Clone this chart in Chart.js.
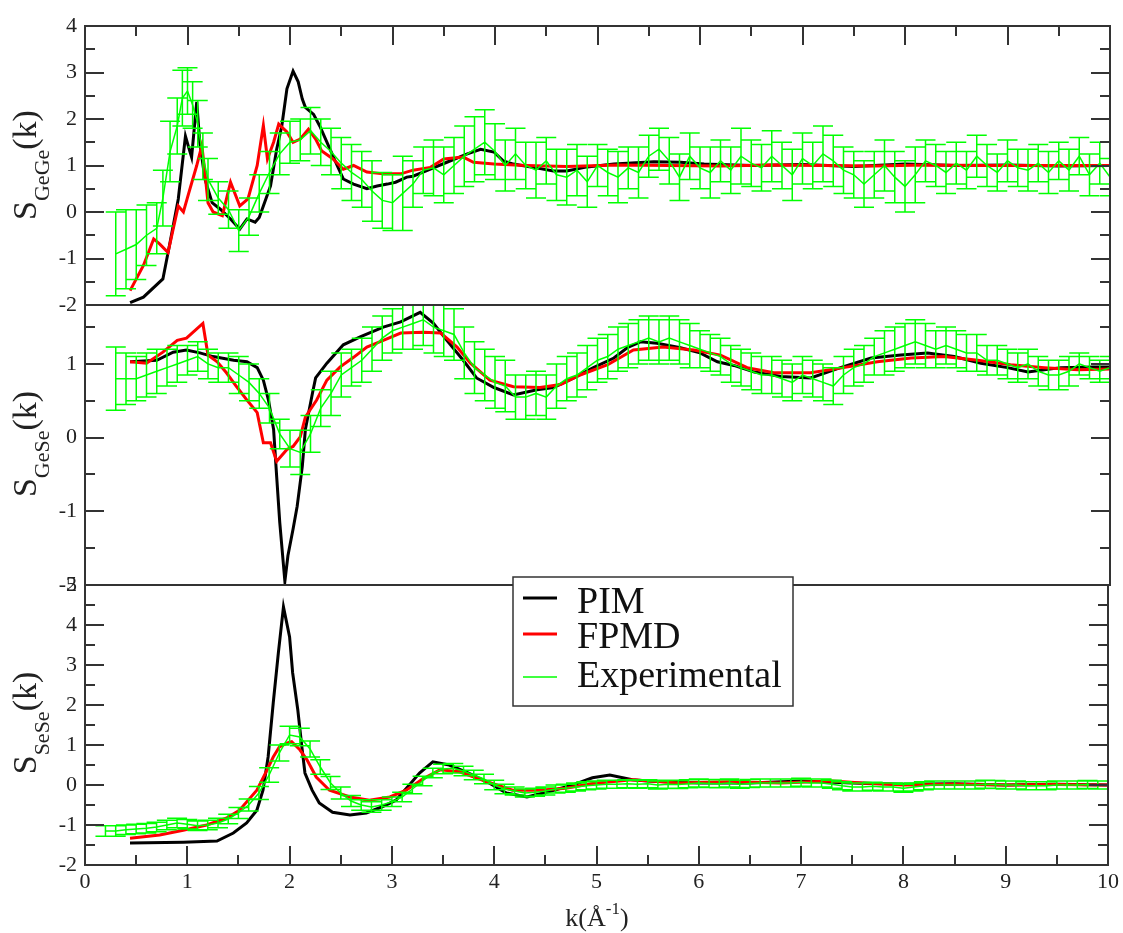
<!DOCTYPE html>
<html>
<head>
<meta charset="utf-8">
<script src="https://cdn.jsdelivr.net/npm/chart.js@4.4.1/dist/chart.umd.min.js"></script>
<style>
  body { margin: 0; background: #fff; }
  #wrap { position: relative; width: 1123px; height: 933px; }
  #wrap canvas { position: absolute; left: 0; top: 0; }
</style>
</head>
<body>
<div id="wrap">
  <canvas id="p1" width="1123" height="933"></canvas>
  <canvas id="p2" width="1123" height="933"></canvas>
  <canvas id="p3" width="1123" height="933"></canvas>
</div>
<script>
// ---- data ----
const xTicks = [0, 1, 2, 3, 4, 5, 6, 7, 8, 9, 10];
const seriesNames = ["PIM", "FPMD", "Experimental"];

// S_GeGe(k)
const pimK1 = [0.44,0.57,0.76,0.83,0.91,0.98,1.01,1.04,1.09,1.12,1.17,1.24,1.32,1.42,1.51,1.58,1.66,1.7,1.74,1.81,1.87,1.92,1.97,2.03,2.08,2.12,2.15,2.23,2.29,2.39,2.46,2.52,2.62,2.75,2.85,2.95,3.03,3.14,3.2,3.37,3.53,3.73,3.86,3.99,4.08,4.18,4.35,4.57,4.7,4.9,5.16,5.55,5.81,6.04,6.5,7.0,7.5,8.0,8.5,9.0,9.5,10.0];
const pimS1 = [-1.95,-1.83,-1.44,-0.65,0.28,1.63,1.4,1.18,2.37,1.5,0.71,0.2,0.06,-0.15,-0.37,-0.15,-0.22,-0.12,0.13,0.56,1.35,1.85,2.65,3.03,2.8,2.43,2.25,2.1,1.85,1.35,1.0,0.71,0.6,0.5,0.56,0.6,0.64,0.75,0.77,0.92,1.07,1.25,1.35,1.29,1.1,1.03,0.97,0.88,0.88,0.97,1.03,1.08,1.07,1.03,1.0,1.02,0.98,1.03,1.0,1.01,0.99,1.0];
const fpK1 = [0.44,0.57,0.67,0.73,0.81,0.86,0.91,0.96,1.01,1.09,1.14,1.17,1.2,1.25,1.34,1.42,1.51,1.59,1.68,1.74,1.78,1.84,1.89,1.97,2.03,2.1,2.18,2.25,2.31,2.42,2.52,2.62,2.75,2.91,3.08,3.2,3.37,3.5,3.69,3.79,3.99,4.3,4.7,5.2,5.7,6.2,6.7,7.2,7.7,8.2,8.7,9.2,9.7,10.0];
const fpS1 = [-1.69,-1.15,-0.58,-0.69,-0.87,-0.37,0.13,0.0,0.39,1.0,1.43,0.85,0.2,0.0,-0.08,0.64,0.13,0.28,1.0,1.86,1.14,1.5,1.89,1.72,1.5,1.57,1.78,1.57,1.31,1.14,0.92,1.0,0.86,0.82,0.82,0.9,0.96,1.14,1.18,1.07,1.03,1.0,0.98,1.01,1.0,0.99,1.01,1.0,0.99,1.01,1.0,1.0,1.0,1.0];
const expK1 = [0.3,0.4,0.5,0.6,0.7,0.76,0.83,0.9,0.95,1.0,1.05,1.1,1.15,1.2,
  1.3,1.4,1.5,1.6,1.7,1.8,1.9,2.0,2.1,2.2, 2.3,2.4,2.5,2.6,2.7,2.8,2.9,3.0,3.1,3.2,
  3.3,3.4,3.5,3.6,3.7,3.8,3.9,4.0,4.1,4.2, 4.3,4.4,4.5,4.6,4.7,4.8,4.9,5.0,5.1,5.2,
  5.3,5.4,5.5,5.6,5.7,5.8,5.9,6.0,6.1,6.2, 6.3,6.4,6.5,6.6,6.7,6.8,6.9,7.0,7.1,7.2,
  7.3,7.4,7.5,7.6,7.7,7.8,7.9,8.0,8.1,8.2, 8.3,8.4,8.5,8.6,8.7,8.8,8.9,9.0,9.1,9.2,
  9.3,9.4,9.5,9.6,9.7,9.8,9.9,10.0];
const expS1 = [-0.9,-0.8,-0.7,-0.5,-0.35,0.3,1.3,1.85,2.45,2.6,2.3,1.9,1.2,0.7,
  0.3,0.05,-0.4,-0.1,0.4,0.85,1.25,1.5,1.55,1.75, 1.5,1.3,1.05,0.85,0.7,0.45,0.25,0.2,0.4,0.6,
  0.9,0.95,0.8,1.0,1.2,1.35,1.5,1.3,1.0,1.25, 1.0,0.9,1.1,0.8,0.75,0.9,0.65,1.0,0.85,0.75,
  0.95,0.85,1.2,1.35,1.1,0.75,1.2,0.95,0.85,1.1, 0.9,1.2,1.05,0.95,1.2,1.0,0.8,1.15,1.0,1.25,
  1.1,0.9,0.8,0.6,0.8,1.0,0.75,0.55,0.8,1.1, 1.0,0.85,1.05,0.9,1.2,1.0,0.85,1.1,0.95,0.9,
  1.05,0.85,1.1,0.9,1.2,0.8,1.05,0.75];
const expE1 = [0.9,0.85,0.75,0.65,0.55,0.6,0.65,0.6,0.6,0.5,0.5,0.5,0.5,0.45,
  0.35,0.4,0.45,0.4,0.4,0.45,0.45,0.45,0.45,0.5, 0.5,0.5,0.55,0.6,0.6,0.65,0.6,0.6,0.8,0.5,
  0.5,0.6,0.6,0.6,0.65,0.7,0.7,0.6,0.55,0.55, 0.5,0.6,0.5,0.55,0.6,0.55,0.55,0.45,0.5,0.55,
  0.45,0.55,0.45,0.45,0.5,0.5,0.5,0.45,0.55,0.45, 0.5,0.6,0.5,0.5,0.55,0.5,0.55,0.55,0.5,0.6,
  0.55,0.5,0.5,0.5,0.5,0.55,0.55,0.55,0.6,0.45, 0.45,0.45,0.45,0.4,0.45,0.45,0.4,0.45,0.4,0.45,
  0.4,0.45,0.4,0.45,0.4,0.45,0.45,0.4];

// S_GeSe(k)
const pimK2 = [0.44,0.7,0.86,0.99,1.12,1.25,1.45,1.58,1.68,1.74,1.79,1.84,1.87,1.9,1.95,1.98,2.03,2.07,2.12,2.15,2.22,2.25,2.36,2.52,2.69,2.91,3.08,3.27,3.4,3.53,3.69,3.82,3.99,4.18,4.41,4.57,4.77,4.96,5.16,5.29,5.42,5.58,5.81,6.0,6.17,6.33,6.53,6.79,7.08,7.37,7.67,7.96,8.22,8.48,8.74,9.0,9.2,9.52,9.84,10.0];
const pimS2 = [1.03,1.05,1.16,1.19,1.15,1.1,1.05,1.03,0.95,0.78,0.51,0.11,-0.53,-1.15,-1.95,-1.6,-1.24,-0.93,-0.39,0.11,0.61,0.81,1.01,1.26,1.37,1.5,1.57,1.7,1.55,1.32,1.05,0.81,0.68,0.58,0.65,0.68,0.81,0.95,1.08,1.22,1.3,1.28,1.22,1.15,1.03,0.98,0.89,0.83,0.81,0.95,1.08,1.12,1.15,1.1,1.01,0.95,0.89,0.95,0.96,0.96];
const fpK2 = [0.44,0.6,0.76,0.9,0.99,1.15,1.2,1.29,1.38,1.48,1.58,1.68,1.74,1.81,1.87,1.97,2.03,2.1,2.15,2.26,2.36,2.49,2.62,2.75,2.91,3.08,3.3,3.47,3.63,3.76,3.95,4.18,4.44,4.64,4.83,5.1,5.35,5.64,5.94,6.2,6.46,6.72,7.08,7.4,7.73,8.06,8.38,8.71,9.03,9.36,9.69,10.0];
const fpS2 = [1.03,1.01,1.16,1.32,1.35,1.55,1.12,1.03,0.88,0.69,0.51,0.34,-0.07,-0.07,-0.32,-0.16,-0.12,0.01,0.28,0.51,0.78,0.96,1.09,1.23,1.32,1.42,1.43,1.42,1.23,1.01,0.78,0.69,0.68,0.72,0.85,0.99,1.19,1.23,1.19,1.12,0.95,0.88,0.88,0.95,1.03,1.08,1.1,1.05,0.99,0.95,0.92,0.93];
const expK2 = [0.3,0.4,0.5,0.6,0.7,0.8,0.9,1.0,1.1,1.2, 1.3,1.4,1.5,1.6,1.7,1.8,1.9,2.0,2.1,2.2,
  2.3,2.4,2.5,2.6,2.7,2.8,2.9,3.0,3.1,3.2, 3.3,3.4,3.5,3.6,3.7,3.8,3.9,4.0,4.1,4.2,
  4.3,4.4,4.5,4.6,4.7,4.8,4.9,5.0,5.1,5.2, 5.3,5.4,5.5,5.6,5.7,5.8,5.9,6.0,6.1,6.2,
  6.3,6.4,6.5,6.6,6.7,6.8,6.9,7.0,7.1,7.2, 7.3,7.4,7.5,7.6,7.7,7.8,7.9,8.0,8.1,8.2,
  8.3,8.4,8.5,8.6,8.7,8.8,8.9,9.0,9.1,9.2, 9.3,9.4,9.5,9.6,9.7,9.8,9.9,10.0];
const expS2 = [0.8,0.8,0.8,0.85,0.9,0.95,1.0,1.05,1.1,1.0, 0.95,0.95,0.85,0.75,0.6,0.4,0.05,-0.15,-0.2,0.05,
  0.4,0.6,0.85,0.95,1.05,1.2,1.35,1.45,1.5,1.55, 1.6,1.5,1.45,1.4,1.15,0.95,0.85,0.75,0.7,0.55,
  0.55,0.6,0.55,0.7,0.8,0.85,0.95,1.05,1.1,1.2, 1.25,1.3,1.35,1.3,1.35,1.3,1.25,1.2,1.15,1.1,
  1.0,0.95,0.9,0.85,0.85,0.8,0.75,0.85,0.8,0.75, 0.7,0.85,0.95,1.0,1.1,1.15,1.2,1.25,1.3,1.25,
  1.2,1.25,1.2,1.15,1.15,1.05,1.05,1.0,0.95,1.0, 0.9,0.85,0.85,0.9,1.0,0.95,0.9,0.95];
const expE2 = [0.43,0.35,0.3,0.3,0.3,0.25,0.25,0.2,0.2,0.2, 0.2,0.2,0.25,0.25,0.2,0.2,0.2,0.25,0.3,0.25,
  0.25,0.3,0.3,0.25,0.3,0.3,0.3,0.3,0.3,0.35, 0.35,0.35,0.35,0.35,0.35,0.35,0.35,0.35,0.35,0.3,
  0.3,0.3,0.3,0.3,0.3,0.3,0.3,0.3,0.3,0.3, 0.3,0.3,0.3,0.3,0.3,0.3,0.3,0.25,0.25,0.25,
  0.25,0.25,0.25,0.25,0.25,0.25,0.25,0.25,0.25,0.25, 0.25,0.25,0.25,0.25,0.25,0.3,0.3,0.3,0.3,0.3,
  0.25,0.25,0.25,0.25,0.25,0.2,0.2,0.2,0.2,0.2, 0.2,0.2,0.2,0.2,0.15,0.15,0.15,0.15];

// S_SeSe(k)
const pimK3 = [0.44,0.96,1.29,1.45,1.58,1.68,1.74,1.79,1.84,1.89,1.94,2.0,2.03,2.08,2.12,2.15,2.22,2.29,2.42,2.59,2.75,2.9,3.04,3.17,3.27,3.4,3.56,3.75,3.95,4.12,4.32,4.51,4.77,4.96,5.13,5.35,5.5,6.0,6.5,7.0,7.5,8.0,8.5,9.0,9.5,10.0];
const pimS3 = [-1.45,-1.43,-1.4,-1.2,-0.95,-0.63,-0.13,0.7,2.05,3.3,4.45,3.7,2.8,1.88,0.95,0.3,-0.13,-0.45,-0.68,-0.75,-0.7,-0.55,-0.38,0.0,0.3,0.58,0.5,0.3,0.05,-0.2,-0.3,-0.18,0.0,0.18,0.25,0.13,0.1,0.05,0.05,0.1,0.05,0.02,0.03,0.0,0.02,0.0];
const fpK3 = [0.44,0.73,0.96,1.19,1.38,1.51,1.68,1.78,1.84,1.9,1.98,2.02,2.1,2.17,2.26,2.39,2.59,2.78,2.98,3.14,3.3,3.47,3.66,3.93,4.18,4.44,4.7,4.96,5.35,5.8,6.3,6.8,7.3,7.6,8.0,8.5,9.0,9.5,10.0];
const fpS3 = [-1.33,-1.25,-1.13,-1.0,-0.83,-0.63,-0.13,0.38,0.7,0.95,1.05,1.08,0.88,0.63,0.2,-0.13,-0.3,-0.38,-0.3,-0.13,0.15,0.38,0.33,0.08,-0.13,-0.13,-0.08,0.04,0.13,0.05,0.08,0.05,0.1,0.05,0.0,0.02,0.0,0.01,0.0];
const expK3 = [0.2,0.3,0.4,0.5,0.6,0.7,0.8,0.9,1.0,1.1, 1.2,1.3,1.4,1.5,1.6,1.7,1.8,1.9,2.0,2.1,
  2.2,2.3,2.4,2.5,2.6,2.7,2.8,2.9,3.0,3.1, 3.2,3.3,3.4,3.5,3.6,3.7,3.8,3.9,4.0,4.1,
  4.2,4.3,4.4,4.5,4.6,4.7,4.8,4.9,5.0,5.1, 5.2,5.3,5.4,5.5,5.6,5.7,5.8,5.9,6.0,6.1,
  6.2,6.3,6.4,6.5,6.6,6.7,6.8,6.9,7.0,7.1, 7.2,7.3,7.4,7.5,7.6,7.7,7.8,7.9,8.0,8.1,
  8.2,8.3,8.4,8.5,8.6,8.7,8.8,8.9,9.0,9.1, 9.2,9.3,9.4,9.5,9.6,9.7,9.8,9.9,10.0];
const expS3 = [-1.15,-1.15,-1.12,-1.1,-1.08,-1.05,-1.0,-0.95,-0.98,-1.02, -1.0,-0.95,-0.85,-0.7,-0.5,-0.2,0.25,0.8,1.25,1.2,
  0.9,0.45,0.05,-0.2,-0.4,-0.5,-0.55,-0.5,-0.42,-0.3, -0.1,0.1,0.3,0.4,0.42,0.35,0.25,0.15,0.0,-0.1,
  -0.15,-0.2,-0.18,-0.15,-0.1,-0.08,-0.05,-0.02,0.0,0.02, 0.02,0.03,0.02,0.03,0.0,0.02,0.01,0.03,0.05,0.04,
  0.03,0.05,0.02,0.04,0.05,0.05,0.05,0.05,0.07,0.05, 0.05,0.02,-0.02,-0.05,-0.05,-0.03,-0.05,-0.05,-0.08,-0.05,
  -0.02,0.0,0.0,0.0,0.0,0.0,0.02,0.01,0.0,0.0, -0.02,-0.02,-0.02,0.0,0.0,0.0,0.01,0.0,0.0];
const expE3 = [0.13,0.13,0.12,0.12,0.12,0.12,0.12,0.12,0.12,0.12, 0.12,0.12,0.12,0.14,0.15,0.16,0.18,0.2,0.22,0.22,
  0.2,0.18,0.16,0.15,0.14,0.13,0.13,0.13,0.12,0.12, 0.12,0.12,0.12,0.12,0.12,0.12,0.12,0.12,0.12,0.12,
  0.1,0.1,0.1,0.1,0.1,0.1,0.1,0.1,0.1,0.1, 0.1,0.1,0.1,0.1,0.1,0.1,0.1,0.1,0.1,0.1,
  0.1,0.1,0.1,0.1,0.1,0.1,0.1,0.1,0.1,0.1, 0.1,0.1,0.1,0.1,0.1,0.1,0.1,0.1,0.1,0.1,
  0.1,0.1,0.1,0.1,0.1,0.1,0.1,0.1,0.1,0.1, 0.1,0.1,0.1,0.1,0.1,0.1,0.1,0.1,0.1];

const FONT = "'Liberation Serif', 'DejaVu Serif', serif";
const INK = "#333";

function pts(ks, vs) {
    return ks.map((k, i) => ({ x: k, y: vs[i] }));
}

// vertical error bars with caps for the experimental set
const errorBars = {
    id: "errorBars",
    afterDatasetsDraw(chart) {
        const ds = chart.data.datasets.find(d => d.errors);
        if (!ds) return;
        const { ctx, chartArea: a, scales: { x, y } } = chart;
        ctx.save();
        ctx.beginPath();
        ctx.rect(a.left, a.top, a.right - a.left, a.bottom - a.top);
        ctx.clip();
        ctx.strokeStyle = ds.borderColor;
        ctx.lineWidth = 1.5;
        ctx.beginPath();
        ds.data.forEach((p, i) => {
            const px = x.getPixelForValue(p.x);
            const t = y.getPixelForValue(p.y + ds.errors[i]);
            const b = y.getPixelForValue(p.y - ds.errors[i]);
            ctx.moveTo(px, t); ctx.lineTo(px, b);
            ctx.moveTo(px - 10, t); ctx.lineTo(px + 10, t);
            ctx.moveTo(px - 10, b); ctx.lineTo(px + 10, b);
        });
        ctx.stroke();
        ctx.restore();
    }
};

// box around the panel with inward ticks (xmgrace look)
const frameTicks = {
    id: "frameTicks",
    afterDraw(chart, args, opts) {
        const { ctx, chartArea: a, scales: { x, y } } = chart;
        ctx.save();
        ctx.strokeStyle = INK;
        ctx.lineWidth = 2;
        ctx.beginPath();
        for (let v = Math.ceil(y.min * 2) / 2; v <= y.max + 1e-9; v += 0.5) {
            const py = Math.round(y.getPixelForValue(v));
            const len = Number.isInteger(v) ? 19 : 10;
            ctx.moveTo(a.left, py); ctx.lineTo(a.left + len, py);
            ctx.moveTo(a.right, py); ctx.lineTo(a.right - len, py);
        }
        if (opts.top || opts.bottom) {
            for (let v = 0; v <= 10; v += 0.5) {
                const px = Math.round(x.getPixelForValue(v));
                const len = Number.isInteger(v) ? 19 : 10;
                if (opts.top) { ctx.moveTo(px, a.top); ctx.lineTo(px, a.top + len); }
                if (opts.bottom) { ctx.moveTo(px, a.bottom); ctx.lineTo(px, a.bottom - len); }
            }
        }
        ctx.stroke();
        ctx.strokeRect(a.left, a.top, a.right - a.left, a.bottom - a.top);
        ctx.restore();
    }
};

// rotated y title S_xx(k), and k(Å^-1) under the last panel
const titles = {
    id: "titles",
    afterDraw(chart, args, opts) {
        const ctx = chart.ctx;
        ctx.save();
        ctx.fillStyle = "#222";
        ctx.textBaseline = "alphabetic";
        ctx.textAlign = "left";
        const big = "34px " + FONT, small = "22px " + FONT;
        ctx.font = big; const w1 = ctx.measureText("S").width, w3 = ctx.measureText("(k)").width;
        ctx.font = small; const w2 = ctx.measureText(opts.sub).width;
        ctx.translate(36, opts.cy);
        ctx.rotate(-Math.PI / 2);
        let cx = -(w1 + w2 + w3) / 2;
        ctx.font = big; ctx.fillText("S", cx, 0); cx += w1;
        ctx.font = small; ctx.fillText(opts.sub, cx, 13); cx += w2;
        ctx.font = big; ctx.fillText("(k)", cx, 0);
        ctx.restore();

        if (opts.xTitle) {
            ctx.save();
            ctx.fillStyle = "#222";
            const f = "26px " + FONT, fs = "17px " + FONT;
            ctx.font = f; const a1 = ctx.measureText("k(Å").width, a3 = ctx.measureText(")").width;
            ctx.font = fs; const a2 = ctx.measureText("-1").width;
            let px = 597 - (a1 + a2 + a3) / 2;
            const base = 926;
            ctx.font = f; ctx.fillText("k(Å", px, base); px += a1;
            ctx.font = fs; ctx.fillText("-1", px, base - 12); px += a2;
            ctx.font = f; ctx.fillText(")", px, base);
            ctx.restore();
        }
    }
};

// legend box drawn from the datasets of the last panel
const boxLegend = {
    id: "boxLegend",
    afterDraw(chart, args, opts) {
        if (!opts.show) return;
        const ctx = chart.ctx;
        const lineY = [598, 634, 677];
        const baseY = [613, 648, 687];
        ctx.save();
        ctx.fillStyle = "#fff";
        ctx.fillRect(513, 577, 280, 129);
        ctx.strokeStyle = INK;
        ctx.lineWidth = 1.5;
        ctx.strokeRect(513, 577, 280, 129);
        ctx.font = "38px " + FONT;
        ctx.textBaseline = "alphabetic";
        chart.data.datasets.forEach((ds, r) => {
            ctx.strokeStyle = ds.borderColor;
            ctx.lineWidth = ds.borderWidth;
            ctx.beginPath();
            ctx.moveTo(523, lineY[r]); ctx.lineTo(557, lineY[r]);
            ctx.stroke();
            ctx.fillStyle = "#111";
            ctx.fillText(ds.label, 577, baseY[r]);
        });
        ctx.restore();
    }
};

function makePanel(id, p) {
    const ctx = document.getElementById(id).getContext("2d");
    return new Chart(ctx, {
        type: "line",
        data: {
            datasets: [
                { label: seriesNames[0], data: pts(p.pimK, p.pimS), borderColor: "#000", borderWidth: 3, order: 3 },
                { label: seriesNames[1], data: pts(p.fpK, p.fpS), borderColor: "#ff0000", borderWidth: 3, order: 2 },
                { label: seriesNames[2], data: pts(p.expK, p.expS), errors: p.expE, borderColor: "#00ff00", borderWidth: 1.5, order: 1 }
            ]
        },
        options: {
            responsive: false,
            animation: false,
            devicePixelRatio: 1,
            // the y axis box takes the 85px on the left, the x axis box the space under the last panel
            layout: { padding: { left: 0, right: 13, top: p.top, bottom: p.xLabels ? 0 : 933 - p.bottom } },
            elements: { point: { radius: 0 }, line: { tension: 0 } },
            plugins: {
                legend: { display: false },
                tooltip: { enabled: false },
                frameTicks: { top: p.ticksTop, bottom: p.ticksBottom },
                titles: { sub: p.sub, cy: p.titleY, xTitle: p.xLabels },
                boxLegend: { show: p.legend }
            },
            scales: {
                x: {
                    type: "linear", min: 0, max: 10,
                    display: p.xLabels,
                    afterFit: s => { s.height = p.xLabels ? 933 - p.bottom : 0; },
                    afterBuildTicks: s => { s.ticks = xTicks.map(v => ({ value: v })); },
                    grid: { display: false, drawTicks: false },
                    border: { display: false },
                    ticks: { padding: 4, maxRotation: 0, autoSkip: false, color: "#222", font: { family: FONT, size: 22 } }
                },
                y: {
                    min: p.yMin, max: p.yMax,
                    afterFit: s => { s.width = 85; },
                    grid: { display: false, drawTicks: false },
                    border: { display: false },
                    ticks: { stepSize: 1, includeBounds: false, padding: 8, color: "#222", font: { family: FONT, size: 22 } }
                }
            }
        },
        plugins: [errorBars, frameTicks, titles, boxLegend]
    });
}

makePanel("p1", { pimK: pimK1, pimS: pimS1, fpK: fpK1, fpS: fpS1, expK: expK1, expS: expS1, expE: expE1,
    top: 26, bottom: 305, yMin: -2, yMax: 4, sub: "GeGe", titleY: 165, ticksTop: true, ticksBottom: false, xLabels: false, legend: false });
makePanel("p2", { pimK: pimK2, pimS: pimS2, fpK: fpK2, fpS: fpS2, expK: expK2, expS: expS2, expE: expE2,
    top: 305, bottom: 585, yMin: -2, yMax: 1.8, sub: "GeSe", titleY: 444, ticksTop: false, ticksBottom: false, xLabels: false, legend: false });
makePanel("p3", { pimK: pimK3, pimS: pimS3, fpK: fpK3, fpS: fpS3, expK: expK3, expS: expS3, expE: expE3,
    top: 585, bottom: 865, yMin: -2, yMax: 5, sub: "SeSe", titleY: 723, ticksTop: false, ticksBottom: true, xLabels: true, legend: true });
</script>
</body>
</html>
